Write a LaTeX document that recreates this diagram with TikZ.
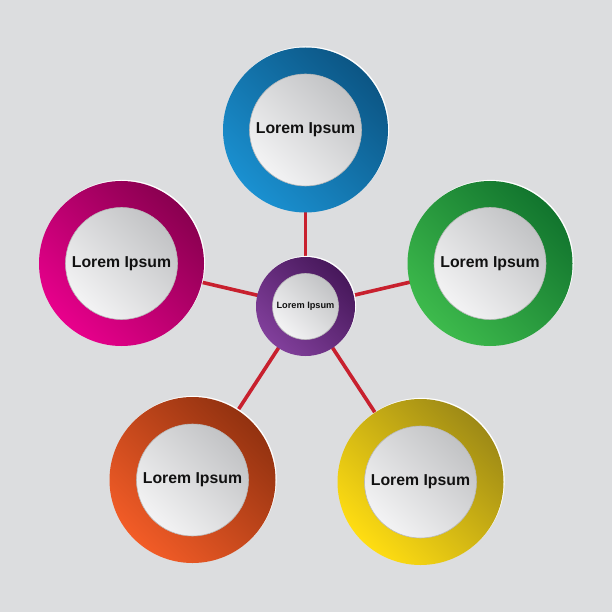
\documentclass[tikz,border=0pt]{standalone}
\usepackage{fontspec}
\setmainfont{Liberation Sans}
\usetikzlibrary{backgrounds}
\definecolor{bg}{HTML}{DCDDDF}
\definecolor{link}{HTML}{C8202E}
\definecolor{blueL}{HTML}{1A90D0}\definecolor{blueD}{HTML}{0C5685}
\definecolor{magL}{HTML}{E8008C}\definecolor{magD}{HTML}{8A0050}
\definecolor{grnL}{HTML}{3DBA4C}\definecolor{grnD}{HTML}{12752E}
\definecolor{orL}{HTML}{F25C27}\definecolor{orD}{HTML}{933210}
\definecolor{yelL}{HTML}{FFDD12}\definecolor{yelD}{HTML}{9E8A16}
\definecolor{purL}{HTML}{813F9B}\definecolor{purD}{HTML}{47185B}
\definecolor{innerL}{HTML}{F3F3F4}\definecolor{innerD}{HTML}{C2C3C5}
\definecolor{txt}{HTML}{111111}
\tikzset{
  ring/.style n args={3}{circle, inner sep=0pt, minimum size=#1,
     top color=#2, bottom color=#3, shading angle=-45},
  disc/.style={circle, inner sep=0pt, minimum size=#1, draw=black!28, line width=0.6pt,
     top color=innerD, bottom color=innerL, shading angle=-45, text=txt},
  bigtxt/.style={font=\bfseries\fontsize{15.8}{18}\selectfont},
  smalltxt/.style={font=\bfseries\fontsize{9.2}{11}\selectfont},
  connector/.style={draw=link, line width=3.6pt},
  rim/.style={fill=white}
}
\begin{document}
\begin{tikzpicture}[x=1pt,y=-1pt]
\useasboundingbox (0,0) rectangle (612,612);
% white rims (slightly offset to the upper right)
\foreach \x/\y/\r in {305.5/130/82.5, 121.5/263.5/82.5, 490/263.5/82.5, 192.5/480/83, 420.5/482/83, 305.5/306.5/49.5}
  \fill[rim] (\x+1.1,\y-1.1) circle[radius=\r pt];
% outer rings
\node[ring={165pt}{blueD}{blueL}] (t) at (305.5,130) {};
\node[ring={165pt}{magD}{magL}] (l) at (121.5,263.5) {};
\node[ring={165pt}{grnD}{grnL}] (r) at (490,263.5) {};
\node[ring={166pt}{orD}{orL}] (bl) at (192.5,480) {};
\node[ring={166pt}{yelD}{yelL}] (br) at (420.5,482) {};
\node[ring={99pt}{purD}{purL}] (c) at (305.5,306.5) {};
% inner discs
\node[disc=112pt, bigtxt] (ti) at (t.center) {Lorem Ipsum};
\node[disc=112pt, bigtxt] (li) at (l.center) {Lorem Ipsum};
\node[disc=112pt, bigtxt] (ri) at (r.center) {Lorem Ipsum};
\node[disc=112pt, bigtxt] (bli) at (bl.center) {Lorem Ipsum};
\node[disc=112pt, bigtxt] (bri) at (br.center) {Lorem Ipsum};
\node[disc=66pt, smalltxt] (ci) at (c.center) {Lorem Ipsum};
% connectors and background
\begin{pgfonlayer}{background}
\fill[bg] (0,0) rectangle (612,612);
\foreach \n in {t,l,r,bl,br}
  \draw[connector] (c.center) -- (\n.center);
\end{pgfonlayer}
\end{tikzpicture}
\end{document}
